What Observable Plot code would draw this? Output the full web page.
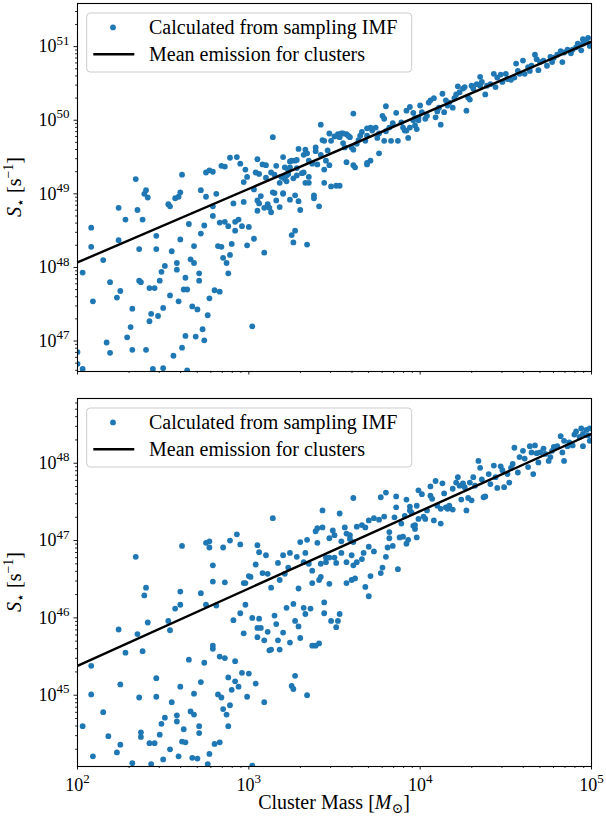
<!DOCTYPE html>
<html><head><meta charset="utf-8">
<script src="https://cdn.jsdelivr.net/npm/d3@7"></script>
<script src="https://cdn.jsdelivr.net/npm/@observablehq/plot@0.6"></script>
<style>
html,body{margin:0;padding:0;background:#fff;overflow:hidden;}
#chart{width:606px;height:820px;position:relative;}
#chart svg{display:block;}
</style></head>
<body><div id="chart"></div>
<script>
// ---- values ----
const massTicks = [1e2, 1e3, 1e4, 1e5];
const topYTicks = [1e47, 1e48, 1e49, 1e50, 1e51];
const botYTicks = [1e45, 1e46, 1e47, 1e48];
const massDomain = [1e2, 1e5];
const topYDomainLog = [46.586, 51.586];
const botYDomainLog = [44.078, 48.837];
const meanMass = [1e2, 1e5];
const meanTop = [1.17e48, 1.17e51];
const meanBot = [2.4e45, 2.4e48];
const legendLabels = ["Calculated from sampling IMF", "Mean emission for clusters"];

// [log10 cluster mass, log10 S*] — upper panel
const topSamples = [
[2.00,46.85],[2.00,46.69],[2.03,46.62],[2.03,47.93],[2.08,48.54],[2.08,48.28],[2.09,47.54],[2.15,48.10],[2.17,46.98],[2.19,47.80],[2.19,46.84],[2.24,48.81],[2.24,48.37],[2.23,47.59],[2.25,47.68],[2.28,48.65],[2.32,47.44],[2.29,47.05],[2.31,47.19],[2.32,46.88],[2.35,48.78],[2.36,48.25],[2.36,47.82],[2.37,47.80],[2.38,48.65],[2.39,49.00],[2.41,48.95],[2.40,46.88],[2.42,47.72],[2.43,47.37],[2.42,47.27],[2.45,47.72],[2.44,46.62],[2.46,48.43],[2.46,48.25],[2.48,47.82],[2.47,47.34],[2.49,47.94],[2.50,47.45],[2.50,46.63],[2.51,48.02],[2.53,48.86],[2.54,48.83],[2.54,47.62],[2.55,48.22],[2.56,46.80],[2.57,48.94],[2.58,48.06],[2.58,47.97],[2.59,47.54],[2.60,48.38],[2.59,48.96],[2.60,49.02],[2.61,46.91],[2.62,47.70],[2.63,47.07],[2.63,47.86],[2.64,47.70],[2.65,48.59],[2.64,46.60],[2.66,48.11],[2.68,48.06],[2.67,47.47],[2.68,48.29],[2.69,47.06],[2.70,47.43],[2.71,47.82],[2.71,47.92],[2.72,48.46],[2.72,49.05],[2.74,48.57],[2.73,47.16],[2.74,47.01],[2.75,48.96],[2.76,47.35],[2.77,47.58],[2.79,48.70],[2.79,48.83],[2.80,47.69],[2.81,49.00],[2.82,48.29],[2.83,48.61],[2.83,47.67],[2.84,48.28],[2.85,48.13],[2.86,48.62],[2.87,48.06],[2.88,47.92],[2.88,48.56],[2.89,48.17],[2.90,48.32],[2.91,48.87],[2.92,48.50],[2.92,48.62],[2.94,48.65],[2.96,48.56],[2.97,48.89],[2.99,48.30],[3.00,48.55],[3.02,47.20],[3.03,48.39],[3.05,48.77],[3.05,48.91],[3.06,48.87],[3.07,48.97],[3.09,48.20],[3.09,48.81],[3.11,48.86],[3.12,48.81],[3.13,48.75],[3.15,49.01],[3.16,48.91],[3.18,48.82],[3.20,49.00],[3.24,48.92],[3.25,48.44],[3.26,48.34],[3.27,48.98],[3.27,48.50],[3.29,48.90],[3.30,48.78],[3.34,48.31],[3.38,48.98],[3.38,48.94],[3.41,48.83],
[2.34,49.20],[2.40,49.05],[2.61,49.26],[2.75,49.29],[2.77,49.32],[2.79,49.30],[2.84,49.38],[2.86,49.37],[2.89,49.49],[2.93,49.50],[2.95,49.41],[2.98,49.33],[2.97,49.16],[2.99,49.23],[3.03,49.06],[3.04,49.29],[3.05,49.47],[3.06,49.27],[3.08,49.40],[3.10,49.39],[3.10,49.22],[3.14,49.77],[3.13,49.29],[3.15,49.26],[3.16,49.38],[3.18,49.15],[3.20,49.50],[3.20,49.23],[3.22,49.17],[3.23,49.27],[3.24,49.44],[3.26,49.21],[3.27,49.45],[3.29,49.61],[3.32,49.29],[3.33,49.60],[3.33,49.15],[3.34,49.55],[3.35,49.23],[3.20,49.01],[3.14,49.02],
[3.42,49.94],[3.61,50.09],[3.80,50.19],[3.78,50.06],[3.79,50.02],[3.86,50.10],[3.92,50.13],[3.94,50.18],[4.00,50.20],[3.96,50.10],[3.97,50.03],[3.99,50.00],[3.93,49.76],[3.89,49.97],[3.90,49.90],[3.91,49.86],[3.94,49.90],[3.98,49.88],[3.84,49.96],[3.82,49.90],[3.80,49.85],[3.83,49.72],[3.87,49.72],[3.79,49.72],[3.76,49.55],[3.75,49.76],[3.76,49.82],[3.74,49.90],[3.71,49.90],[3.69,49.89],[3.72,49.86],[3.69,49.79],[3.68,49.72],[3.71,49.45],[3.69,49.42],[3.66,49.84],[3.65,49.79],[3.64,49.73],[3.63,49.68],[3.61,49.60],[3.60,49.63],[3.59,49.77],[3.57,49.81],[3.55,49.82],[3.54,49.82],[3.53,49.77],[3.52,49.81],[3.50,49.78],[3.47,49.82],[3.44,49.72],[3.48,49.72],[3.55,49.69],[3.56,49.63],[3.57,49.43],[3.61,49.39],[3.62,49.36],[3.69,49.40],[3.46,49.59],[3.45,49.45],[3.47,49.39],[3.44,49.33],[3.40,49.40],[3.39,49.63],[3.39,49.58],[3.42,49.53],[3.35,49.45],[3.37,49.41],[3.35,49.15],[3.44,49.15],[3.48,49.10],[3.51,49.11],[3.53,49.11],[3.28,49.46],[3.25,49.45],[3.24,49.36],[3.28,49.35],[3.31,49.28],[3.28,49.25],[3.23,49.32],[3.21,49.36],[3.19,49.23],[3.22,49.25],[3.21,49.20],[3.43,49.73],[3.58,49.79],[3.32,49.53],
[3.92,49.86],[3.96,50.00],[3.97,49.93],[3.99,50.04],[4.01,50.11],[4.03,50.02],[4.04,50.06],[4.05,50.24],[4.06,50.27],[4.08,50.30],[4.09,50.04],[4.10,50.12],[4.11,50.17],[4.12,49.94],[4.13,50.36],[4.14,50.11],[4.15,50.27],[4.16,50.20],[4.17,50.24],[4.19,50.17],[4.20,50.30],[4.21,50.35],[4.22,50.46],[4.23,50.38],[4.25,50.43],[4.26,50.45],[4.27,50.13],[4.28,50.31],[4.29,50.28],[4.30,50.47],[4.31,50.43],[4.33,50.49],[4.35,50.59],[4.35,50.47],[4.36,50.52],[4.38,50.35],[4.39,50.47],[4.41,50.49],[4.43,50.63],[4.44,50.45],[4.45,50.58],[4.47,50.62],[4.48,50.52],[4.50,50.63],[4.51,50.56],[4.53,50.55],[4.55,50.58],[4.56,50.77],[4.57,50.67],[4.58,50.63],[4.60,50.81],[4.61,50.63],[4.63,50.72],[4.64,50.67],[4.65,50.74],[4.67,50.89],[4.68,50.83],[4.69,50.68],[4.70,50.79],[4.72,50.81],[4.74,50.74],[4.76,50.86],[4.77,50.79],[4.78,50.85],[4.80,50.89],[4.82,50.94],[4.83,50.79],[4.84,50.92],[4.86,50.96],[4.88,50.91],[4.89,50.96],[4.91,50.99],[4.92,51.04],[4.94,50.95],[4.95,51.10],[4.97,51.07],[4.98,51.12],[4.99,51.01],[4.95,51.04]
];

// [log10 cluster mass, log10 S*] — lower panel
const botSamples = [
[2.03,44.60],[2.08,45.38],[2.08,45.01],[2.09,44.21],[2.15,44.78],[2.18,44.47],[2.24,45.85],[2.25,45.14],[2.23,44.26],[2.25,44.36],[2.28,45.55],[2.32,44.12],[2.35,45.79],[2.36,44.97],[2.37,44.52],[2.37,44.46],[2.38,45.57],[2.39,46.29],[2.40,46.39],[2.41,45.94],[2.42,44.38],[2.45,44.38],[2.43,44.11],[2.46,45.22],[2.46,44.98],[2.48,44.49],[2.49,44.63],[2.50,44.17],[2.51,44.71],[2.53,45.96],[2.54,45.84],[2.54,44.30],[2.55,44.91],[2.57,46.12],[2.58,44.66],[2.58,44.74],[2.59,44.21],[2.60,46.17],[2.60,45.11],[2.60,46.34],[2.61,44.40],[2.62,44.56],[2.63,44.39],[2.65,45.46],[2.66,44.79],[2.68,44.75],[2.67,44.19],[2.68,45.02],[2.70,44.18],[2.71,44.51],[2.71,44.60],[2.72,45.17],[2.72,46.32],[2.74,45.42],[2.75,46.17],[2.76,44.11],[2.77,44.24],[2.79,45.64],[2.79,45.60],[2.80,44.37],[2.81,46.16],[2.82,45.01],[2.83,45.50],[2.83,44.39],[2.84,44.97],[2.85,44.82],[2.86,45.48],[2.87,44.75],[2.88,44.60],[2.88,45.23],[2.89,44.87],[2.90,45.07],[2.91,45.97],[2.92,45.44],[2.92,45.18],[2.94,45.11],[2.95,46.06],[2.96,45.29],[2.97,45.80],[2.98,46.17],[2.99,44.98],[3.00,45.28],[3.02,46.00],[3.04,45.15],[3.02,44.09],[3.05,45.75],[3.05,45.87],[3.06,45.99],[3.07,45.87],[3.09,44.91],[3.09,45.71],[3.11,45.82],[3.12,45.58],[3.13,45.59],[3.15,46.03],[3.16,45.92],[3.17,45.71],[3.18,45.59],[3.20,45.81],[3.22,46.13],[3.24,45.68],[3.26,46.18],[3.25,45.12],[3.26,45.08],[3.27,45.25],[3.27,45.96],[3.29,45.89],[3.30,45.74],[3.32,46.13],[3.33,46.05],[3.34,45.00],
[2.34,46.79],[2.61,46.93],[2.75,46.97],[2.77,46.91],[2.77,46.99],[2.79,46.68],[2.79,46.47],[2.85,46.91],[2.86,46.46],[2.89,47.00],[2.93,47.08],[2.95,46.95],[2.97,46.45],[2.98,46.45],[3.00,46.54],[3.01,46.53],[3.04,46.69],[3.05,46.94],[3.06,46.85],[3.08,46.58],[3.10,46.81],[3.11,46.57],[3.14,47.29],[3.17,46.71],[3.18,46.49],[3.20,46.81],[3.21,46.57],[3.23,46.65],[3.24,46.84],[3.28,46.79],[3.30,46.98],[3.33,46.84],[3.34,47.01],[3.35,46.70],[3.13,46.39],
[3.43,47.39],[3.61,47.55],[3.53,47.35],[3.39,47.12],[3.40,47.16],[3.43,47.17],[3.40,46.97],[3.47,47.03],[3.49,47.13],[3.50,47.07],[3.54,46.99],[3.56,47.17],[3.57,47.09],[3.59,47.07],[3.59,47.02],[3.61,46.98],[3.63,47.18],[3.66,47.20],[3.68,47.17],[3.70,47.26],[3.73,47.29],[3.76,47.27],[3.77,47.56],[3.80,47.62],[3.79,47.31],[3.85,47.30],[3.86,47.43],[3.86,47.57],[3.92,47.53],[3.94,47.44],[3.98,47.45],[3.99,47.65],[3.95,47.36],[3.97,47.20],[3.89,47.22],[3.88,47.04],[3.90,47.05],[3.93,47.01],[3.92,46.96],[3.98,47.04],[3.82,47.11],[3.82,47.03],[3.84,46.93],[3.81,46.91],[3.80,46.79],[3.78,46.65],[3.77,46.58],[3.73,46.86],[3.70,46.92],[3.67,46.84],[3.66,46.76],[3.63,46.72],[3.61,46.68],[3.57,46.72],[3.54,46.84],[3.50,46.78],[3.47,46.78],[3.45,46.78],[3.45,46.72],[3.51,46.71],[3.60,46.81],[3.71,46.54],[3.68,46.40],[3.70,46.28],[3.87,46.63],[3.62,46.51],[3.60,46.49],[3.57,46.45],[3.47,46.44],[3.42,46.53],[3.41,46.49],[3.37,46.45],[3.42,46.70],[3.37,46.61],[3.32,46.72],[3.29,46.38],[3.41,45.67],[3.37,45.64],[3.39,45.64],[3.44,46.20],[3.44,46.06],[3.48,45.96],[3.52,45.96],[3.51,45.88],[3.53,46.05],[3.36,46.12],
[3.91,47.32],[3.94,47.39],[3.96,47.19],[3.97,47.15],[3.99,47.28],[4.01,47.60],[4.02,47.31],[4.03,47.28],[4.04,47.39],[4.06,47.70],[4.06,47.58],[4.07,47.54],[4.08,47.26],[4.09,47.77],[4.10,47.45],[4.12,47.41],[4.12,47.22],[4.13,47.74],[4.14,47.61],[4.15,47.43],[4.16,47.41],[4.17,47.45],[4.19,47.67],[4.19,47.40],[4.21,47.75],[4.22,47.82],[4.23,47.71],[4.24,47.53],[4.25,47.74],[4.26,47.69],[4.27,47.39],[4.28,47.55],[4.29,47.75],[4.30,47.52],[4.31,47.82],[4.32,47.71],[4.34,48.03],[4.35,47.94],[4.36,47.79],[4.37,47.56],[4.38,47.57],[4.40,47.86],[4.41,47.73],[4.43,47.97],[4.44,47.82],[4.45,47.68],[4.47,47.96],[4.48,47.91],[4.49,47.69],[4.51,47.86],[4.52,47.75],[4.53,47.94],[4.54,47.99],[4.55,48.20],[4.57,47.88],[4.58,48.08],[4.60,48.16],[4.61,48.06],[4.63,47.95],[4.64,48.22],[4.65,48.14],[4.66,47.86],[4.67,48.23],[4.68,48.13],[4.69,48.01],[4.70,48.14],[4.72,48.19],[4.73,48.12],[4.75,48.03],[4.76,48.08],[4.77,48.16],[4.78,48.21],[4.80,48.22],[4.82,48.35],[4.83,48.14],[4.84,48.03],[4.84,48.29],[4.86,48.22],[4.87,48.27],[4.89,48.23],[4.90,48.37],[4.91,48.41],[4.93,48.34],[4.94,48.45],[4.95,48.38],[4.95,48.22],[4.97,48.43],[4.98,48.36],[4.99,48.29],[4.99,48.45]
];

// ---- drawing ----
const FONT = "'Liberation Serif', 'DejaVu Serif', serif";
const BLUE = "#1f77b4";
const W = 606, ML = 77, MR = 15;

function minorTicks(lo, hi) {
  const out = [];
  for (let e = Math.floor(lo); e <= Math.ceil(hi); e++)
    for (let k = 2; k <= 9; k++) {
      const v = k * 10 ** e, lv = Math.log10(v);
      if (lv >= lo && lv <= hi) out.push(v);
    }
  return out;
}
const fmt = d => `10|${Math.round(Math.log10(d))}`;

function panel({samples, mean, yDomainLog, yTicks, height, marginTop, marginBottom, showX}) {
  const pts = samples.map(([m, s]) => ({mass: 10 ** m, s: 10 ** s}));
  const line = meanMass.map((m, i) => ({mass: m, s: mean[i]}));
  const svg = Plot.plot({
    width: W, height, marginLeft: ML, marginRight: MR, marginTop, marginBottom,
    style: {fontFamily: FONT, fontSize: "18px", color: "black", background: "white", overflow: "visible"},
    x: {type: "log", domain: massDomain},
    y: {type: "log", domain: yDomainLog.map(v => 10 ** v)},
    marks: [
      Plot.dot(pts, {x: "mass", y: "s", r: 2.9, fill: BLUE, clip: true}),
      Plot.line(line, {x: "mass", y: "s", stroke: "black", strokeWidth: 2.4, clip: true}),
      Plot.axisY({ticks: minorTicks(...yDomainLog), tickSize: 2, tickFormat: () => "", label: null, strokeWidth: 0.8}),
      Plot.axisY({ticks: yTicks, tickSize: 3.5, tickPadding: 4.5, tickFormat: fmt, label: null, strokeWidth: 0.9}),
      Plot.axisX({ticks: minorTicks(2, 5), tickSize: 2, tickFormat: () => "", label: null, strokeWidth: 0.8}),
      Plot.axisX({ticks: massTicks, tickSize: 3.5, tickPadding: 8, tickFormat: showX ? fmt : () => "", label: null, strokeWidth: 0.9}),
      Plot.frame({stroke: "black", strokeWidth: 1.1})
    ]
  });
  const s = d3.select(svg);
  // superscript exponents of tick labels
  s.selectAll("text").each(function () {
    const t = this.textContent;
    if (!t.includes("|")) return;
    const [b, e] = t.split("|");
    const sel = d3.select(this);
    sel.text("");
    sel.append("tspan").text(b);
    sel.append("tspan").attr("font-size", "13px").attr("dy", "-7.5").text(e);
  });
  // legend
  const g = s.append("g").attr("font-family", FONT).attr("font-size", 20).attr("fill", "black")
    .attr("text-anchor", "start");
  g.append("rect").attr("x", 86.7).attr("y", marginTop + 10).attr("width", 325).attr("height", 59)
    .attr("rx", 3.5).attr("fill", "white").attr("fill-opacity", 0.8).attr("stroke", "#cccccc").attr("stroke-width", 1);
  g.append("circle").attr("cx", 113).attr("cy", marginTop + 24.4).attr("r", 2.9).attr("fill", BLUE);
  g.append("text").attr("x", 149).attr("y", marginTop + 31.3).text(legendLabels[0]);
  g.append("line").attr("x1", 93.3).attr("x2", 134.3).attr("y1", marginTop + 51.3).attr("y2", marginTop + 51.3)
    .attr("stroke", "black").attr("stroke-width", 2.4);
  g.append("text").attr("x", 149).attr("y", marginTop + 57.6).text(legendLabels[1]);
  // y label
  const cy = marginTop + (height - marginTop - marginBottom) / 2;
  const yl = s.append("text").attr("transform", `translate(21,${cy}) rotate(-90)`).attr("text-anchor", "middle")
    .attr("font-family", FONT).attr("font-size", 20).attr("fill", "black");
  yl.append("tspan").attr("font-style", "italic").text("S");
  yl.append("tspan").attr("font-size", "14px").attr("dy", "4").text("⋆");
  yl.append("tspan").attr("dy", "-4").text(" [s");
  yl.append("tspan").attr("font-size", "14px").attr("dy", "-8").text("−1");
  yl.append("tspan").attr("dy", "8").text("]");
  if (showX) {
    const xl = s.append("text").attr("x", ML + (W - ML - MR) / 2).attr("y", height - 11).attr("text-anchor", "middle")
      .attr("font-family", FONT).attr("font-size", 20).attr("fill", "black");
    xl.append("tspan").text("Cluster Mass [");
    xl.append("tspan").attr("font-style", "italic").text("M");
    xl.append("tspan").attr("font-size", "14px").attr("dy", "4").text("⊙");
    xl.append("tspan").attr("dy", "-4").text("]");
  }
  return svg;
}

const chart = document.getElementById("chart");
chart.append(panel({samples: topSamples, mean: meanTop, yDomainLog: topYDomainLog, yTicks: topYTicks,
  height: 384, marginTop: 3, marginBottom: 13, showX: false}));
chart.append(panel({samples: botSamples, mean: meanBot, yDomainLog: botYDomainLog, yTicks: botYTicks,
  height: 436, marginTop: 14, marginBottom: 54, showX: true}));
</script>
</body></html>
